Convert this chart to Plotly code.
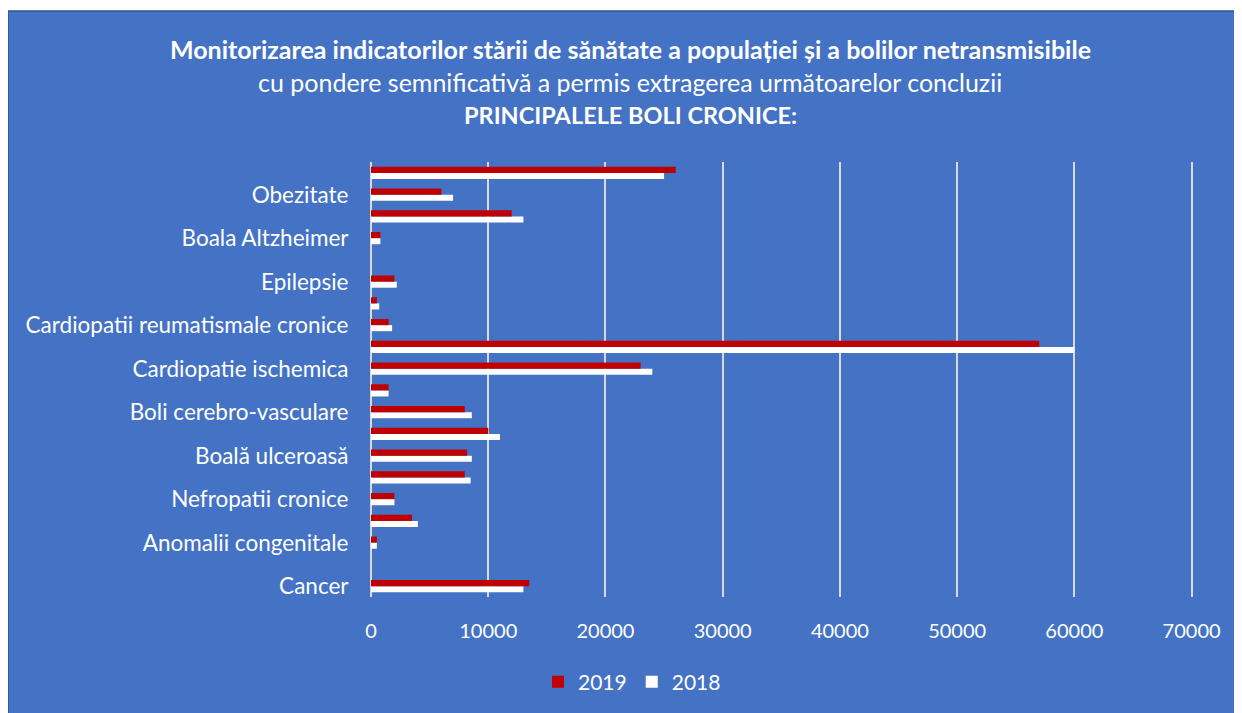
import plotly.graph_objects as go

# categories from bottom to top; rows without a visible label keep an empty string
labels = ['Cancer', '', 'Anomalii congenitale', '', 'Nefropatii cronice', '',
          'Boală ulceroasă', '', 'Boli cerebro-vasculare', '', 'Cardiopatie ischemica', '',
          'Cardiopatii reumatismale cronice', '', 'Epilepsie', '', 'Boala Altzheimer', '',
          'Obezitate', '']
positions = list(range(len(labels)))

cases_2019 = [13500, None, 500, 3500, 2000, 8000, 8200, 10000, 8000, 1500,
              23000, 57000, 1500, 500, 2000, None, 800, 12000, 6000, 26000]
cases_2018 = [13000, None, 500, 4000, 2000, 8500, 8600, 11000, 8600, 1500,
              24000, 60000, 1800, 700, 2200, None, 800, 13000, 7000, 25000]

x_ticks = [0, 10000, 20000, 30000, 40000, 50000, 60000, 70000]

BLUE = '#4472C4'
FONT = 'Lato, Open Sans, sans-serif'
OFF = 8  # the page body adds an 8px margin around the figure

fig = go.Figure()
# 2018 first so it sits under 2019 inside each group
fig.add_trace(go.Bar(y=positions, x=cases_2018, name='2018', orientation='h',
                     marker=dict(color='#FFFFFF', line=dict(width=0))))
fig.add_trace(go.Bar(y=positions, x=cases_2019, name='2019', orientation='h',
                     marker=dict(color='#C00000', line=dict(width=0))))

# plot area in page pixels: x 371..1193, y 162..597
L, R, T, B = 371 - OFF, 1193 - OFF, 162 - OFF, 597 - OFF
W, H = R - L, B - T


def px(x):
    return (x - OFF - L) / W


def py(y):
    return (B - (y - OFF)) / H


# blue card with a darker edge
fig.add_shape(type='rect', xref='paper', yref='paper', layer='below',
              x0=px(8), x1=px(1260), y0=py(730), y1=py(11),
              fillcolor=BLUE, line=dict(color='#2F528F', width=1.5))

titles = [
    ('<b>Monitorizarea indicatorilor stării de sănătate a populației și a bolilor netransmisibile</b>', 49, 25),
    ('cu pondere semnificativă a permis extragerea următoarelor concluzii', 82, 25),
    ('<b>PRINCIPALELE BOLI CRONICE:</b>', 115, 23.5),
]
for text, ypix, size in titles:
    fig.add_annotation(text=text, xref='paper', yref='paper', x=px(630), y=py(ypix),
                       xanchor='center', yanchor='middle', showarrow=False,
                       font=dict(family=FONT, size=size, color='white'))

fig.update_layout(
    width=1242, height=713,
    margin=dict(l=L, r=1242 - R, t=T, b=713 - B),
    paper_bgcolor='white',
    plot_bgcolor=BLUE,
    barmode='group',
    bargap=0.44,
    bargroupgap=0,
    font=dict(family=FONT, size=20, color='white'),
    showlegend=True,
    legend=dict(orientation='h', x=px(632), y=py(682), xanchor='center', yanchor='middle',
                traceorder='reversed', bgcolor='rgba(0,0,0,0)',
                font=dict(family=FONT, size=21, color='white'), itemwidth=30),
)

fig.update_xaxes(
    range=[0, 70120], tickvals=x_ticks, ticktext=[str(v) for v in x_ticks],
    showgrid=True, gridcolor='#D9D9D9', gridwidth=2,
    zeroline=True, zerolinecolor='#D9D9D9', zerolinewidth=2,
    showline=False, ticks='outside', ticklen=16, tickcolor='rgba(0,0,0,0)',
    tickfont=dict(family=FONT, size=20, color='white'), fixedrange=True,
)
fig.update_yaxes(
    range=[-0.5, len(labels) - 0.5], tickvals=positions, ticktext=labels,
    showgrid=False, zeroline=False, showline=False,
    ticks='outside', ticklen=17, tickcolor='rgba(0,0,0,0)',
    tickfont=dict(family=FONT, size=22.5, color='white'), fixedrange=True,
)

fig.write_html('out.html')
